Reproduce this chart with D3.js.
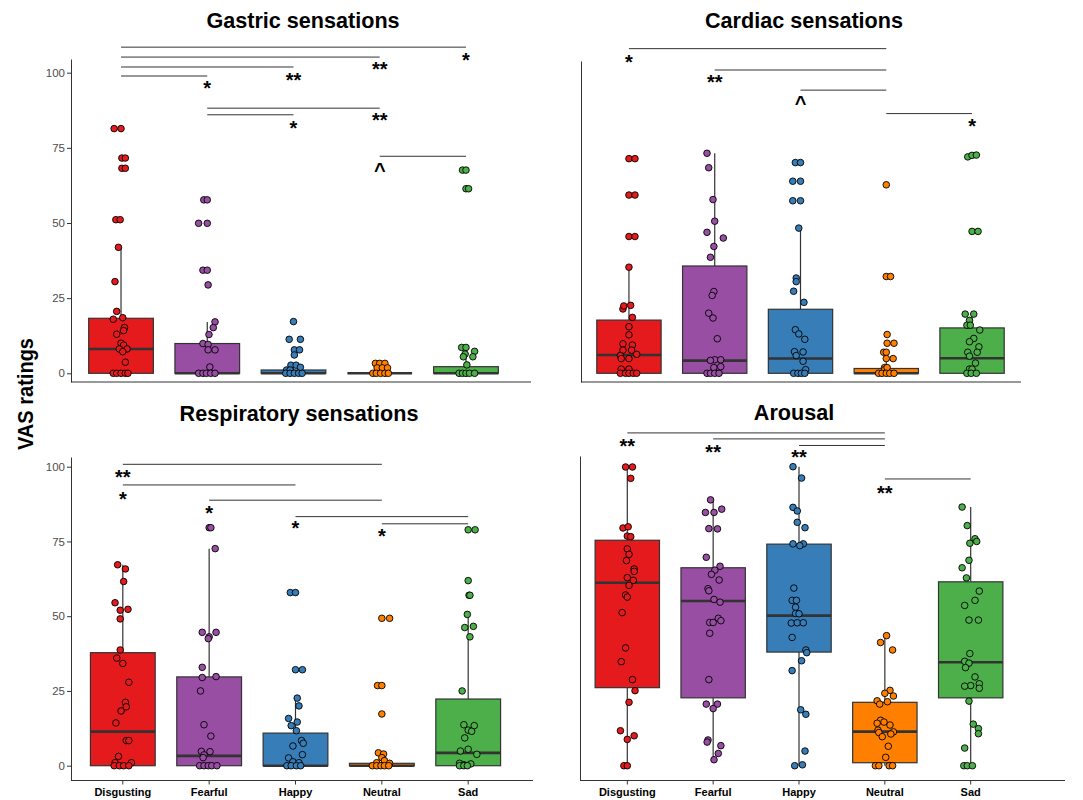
<!DOCTYPE html>
<html>
<head>
<meta charset="utf-8">
<script src="https://cdn.jsdelivr.net/npm/d3@7"></script>
<style>
body { margin: 0; background: #fff; }
svg { display: block; font-family: "Liberation Sans", Arial, sans-serif; }
</style>
</head>
<body>
<div id="chart"></div>
<script>
// Emotion categories and their fill colours (Set1 style)
var categories = ['Disgusting', 'Fearful', 'Happy', 'Neutral', 'Sad'];
var catColors = ['#E41A1C', '#984EA3', '#377EB8', '#FF7F00', '#4DAF4A'];
var yTickValues = [0, 25, 50, 75, 100];

// box stats per category: [lower whisker, q1, median, q3, upper whisker]
var gastricBox = [[0, 0, 8.1, 18.3, 41.9], [0, 0, 0, 9.9, 17.1], [0, 0, 0, 1.1, 2.7], [0, 0, 0, 0, 0], [0, 0, 0, 2.2, 5.5]];
var cardiacBox = [[0, 0, 6.1, 17.7, 35.3], [0, 0, 4.2, 35.7, 73.2], [0, 0, 4.9, 21.3, 48.3], [0, 0, 0, 1.6, 4.0], [0, 0, 5.0, 15.1, 19.7]];
var respBox = [[0, 0, 11.4, 37.8, 67.2], [0, 0, 3.3, 29.7, 72.6], [0, 0, 0, 10.9, 22.6], [0, 0, 0, 0.8, 1.7], [0, 0, 4.3, 22.3, 50.6]];
var arousalBox = [[0, 26.1, 61.2, 75.4, 100], [2.0, 22.7, 55.1, 66.2, 88.9], [0, 38.0, 50.2, 74.1, 100], [0, 1.0, 11.4, 21.2, 43.5], [0, 22.7, 34.6, 61.5, 86.5]];

// individual ratings per category: [value, jitter as fraction of a category step]
var gastricPoints = [
  [[81.4,-.08],[81.4,0],[71.6,.01],[71.6,.05],[68.2,.01],[68.2,.05],[51.1,-.06],[51.1,-.01],[41.9,-.03],[30.5,-.07],[20.6,-.05],[18.5,.02],[18.0,-.09],[13.0,-.05],[15.2,.04],[14.2,.03],[10.0,0],[9.4,.03],[8.1,-.02],[8.1,.07],[7.2,.02],[3.7,.05],[0,-.09],[0,-.05],[0,0],[0,.05],[0,.08]],
  [[57.7,-.04],[57.7,0],[49.9,-.1],[49.9,0],[34.3,-.05],[34.3,0],[29.4,.01],[17.1,.09],[15.2,.07],[12.9,.02],[9.9,-.05],[9.6,.01],[7.8,.01],[7.8,.09],[2.1,.03],[0,-.1],[0,-.05],[0,-.01],[0,.04],[0,.09]],
  [[17.2,0],[11.3,-.05],[11.3,.08],[7.8,.01],[7.8,.07],[6.1,.01],[2.7,-.03],[2.7,.03],[2.0,.08],[1.1,-.08],[1.1,-.04],[0,-.09],[0,-.04],[0,.01],[0,.06],[0,.10]],
  [[3.3,-.05],[3.3,0],[3.3,.06],[1.8,-.03],[1.8,.03],[1.8,.09],[0,-.08],[0,-.04],[0,.01],[0,.06],[0,.1]],
  [[67.6,-.04],[67.6,0],[61.4,0],[61.4,.03],[8.6,-.05],[8.6,0],[7.3,.1],[6.4,-.01],[5.5,-.03],[5.5,.08],[2.8,.01],[0,-.08],[0,-.04],[0,0],[0,.04],[0,.1]]
];
var cardiacPoints = [
  [[71.4,0],[71.4,.07],[59.3,0],[59.3,.07],[45.5,0],[45.5,.07],[35.3,0],[21.4,-.07],[22.4,-.06],[22.6,.02],[18.6,.04],[15.5,0],[12.8,0],[9.8,-.07],[9.4,.04],[7.7,-.07],[7.7,.03],[5.9,-.1],[6.3,.09],[4.9,0],[4.9,-.09],[1.4,-.09],[1.4,0],[0,-.1],[0,-.04],[0,0],[0,.05],[0,.09]],
  [[73.2,-.09],[68.4,-.07],[57.8,-.02],[50.6,0],[46.9,-.09],[45.0,.1],[42.2,-.01],[38.6,-.05],[27.2,-.01],[25.9,-.03],[20.0,-.07],[18.4,-.02],[11.5,.03],[4.5,0],[4.5,.07],[4.3,-.05],[1.9,-.01],[2.2,.07],[0,-.09],[0,-.05],[0,0],[0,.05]],
  [[70.1,-.06],[70.1,0],[63.9,-.09],[63.9,0],[57.4,-.09],[57.4,0],[48.3,-.02],[31.7,-.05],[30.5,-.05],[27.3,-.08],[23.6,.04],[14.5,-.06],[13.1,-.02],[11.3,.05],[7.2,-.07],[7.1,.03],[5.9,-.05],[4.0,.03],[1.2,.06],[0,-.08],[0,-.03],[0,.01],[0,.05]],
  [[62.7,0],[32.2,0],[32.2,.05],[12.9,.01],[10.0,.01],[10.0,.09],[7.0,-.03],[7.0,0],[4.9,0],[4.9,.08],[1.9,-.02],[1.2,-.02],[1.9,.01],[0,-.09],[0,-.05],[0,0],[0,.04],[0,.09]],
  [[72.0,-.05],[72.5,0],[72.6,.05],[47.2,0],[47.2,.07],[19.7,-.08],[19.7,.02],[17.6,-.03],[16.0,-.06],[16.0,-.02],[14.4,.09],[11.6,.02],[10.5,-.03],[8.8,.08],[7.0,-.05],[7.0,.06],[5.7,-.03],[3.4,.04],[1.4,-.03],[1.4,0],[0,-.06],[0,-.01],[0,.05]]
];
var respPoints = [
  [[67.2,-.06],[65.8,.03],[61.6,.01],[54.5,-.09],[52.0,-.03],[52.3,.06],[49.1,-.03],[38.7,-.03],[36.0,-.07],[34.2,0],[27.9,.07],[21.2,.03],[19.7,.04],[18.3,-.02],[14.3,-.08],[8.4,.04],[8.4,.07],[3.1,-.05],[1.0,-.09],[1.0,.1],[0,-.1],[0,-.04],[0,.01],[0,.07]],
  [[79.6,0],[79.6,.02],[72.6,.07],[44.6,-.08],[44.6,.08],[43.1,0],[42.5,-.01],[32.9,-.08],[29.5,-.08],[29.8,.08],[25.0,-.1],[13.7,-.06],[9.9,.02],[4.8,-.09],[4.7,.01],[3.6,-.06],[2.7,-.07],[0,-.11],[0,-.06],[0,-.01],[0,.03],[0,.09]],
  [[57.9,-.06],[57.9,0],[32.1,0],[32.1,.08],[22.6,.02],[20.0,.04],[15.8,-.08],[14.6,.02],[13.4,-.05],[11.7,.01],[8.4,.07],[7.5,.09],[6.6,-.03],[3.7,.08],[2.6,-.08],[1.3,-.03],[1.0,.04],[0,-.1],[0,-.05],[0,.01],[0,.06]],
  [[49.3,0],[49.3,.09],[26.8,-.05],[26.8,0],[17.3,0],[4.3,-.04],[3.9,.02],[2.7,0],[1.7,.03],[1.0,-.06],[0.8,.09],[0,-.11],[0,-.06],[0,-.01],[0,.03],[0,.08]],
  [[78.9,0],[78.9,.08],[61.9,0],[57.0,.01],[57.0,.02],[50.6,-.01],[46.2,-.04],[46.6,.06],[43.1,.02],[25.0,-.07],[13.7,-.05],[13.4,.07],[11.9,0],[11.5,.04],[9.3,-.04],[4.9,-.09],[5.5,0],[3.8,.1],[0.8,-.1],[0.6,.03],[0.3,-.05],[0,-.1],[0,-.05],[0,-.01]]
];
var arousalPoints = [
  [[99.9,-.02],[99.9,.06],[96.1,.04],[79.5,-.05],[79.9,.01],[76.8,0],[76.6,.04],[72.5,0],[70.7,.02],[68.6,-.01],[65.8,.08],[65.0,.08],[62.9,0],[62.0,.07],[60.3,.02],[57.1,-.02],[56.4,0],[51.2,-.06],[39.4,-.02],[34.8,-.07],[28.8,.06],[25.1,.09],[21.2,.02],[11.7,-.08],[10.0,.08],[8.8,0],[0,-.04],[0,0]],
  [[88.9,-.03],[84.7,-.09],[84.7,.01],[85.8,.1],[79.3,-.05],[79.2,.05],[69.7,-.08],[66.7,.08],[65.4,.02],[64.0,-.02],[59.2,-.06],[62.1,.07],[58.5,-.05],[55.6,.01],[54.7,.08],[47.9,-.04],[49.3,.06],[48.5,.09],[47.9,0],[44.3,-.04],[28.8,-.05],[20.6,-.08],[20.6,.05],[19.1,0],[8.6,-.06],[7.9,-.07],[6.7,.09],[4.1,.06],[2.0,.01]],
  [[100,-.07],[96.2,.03],[86.4,-.07],[85.2,-.02],[81.4,-.02],[79.6,.07],[74.2,-.07],[74.2,.05],[73.6,.01],[59.4,-.06],[55.3,-.08],[55.3,-.03],[53.0,-.04],[50.9,-.04],[50.8,0],[47.7,-.09],[47.8,-.02],[47.8,.05],[42.9,-.08],[38.7,.08],[37.8,.09],[35.1,.03],[31.8,-.08],[18.7,.02],[17.2,.08],[4.9,.07],[0,-.05],[0.3,.04]],
  [[43.5,.02],[41.2,-.05],[38.7,.09],[25.2,.06],[24.2,0],[23.3,.1],[21.7,-.09],[21.4,.03],[20.6,-.06],[15.2,-.05],[14.2,-.09],[14.6,-.01],[13.6,.06],[11.9,-.08],[11.1,-.07],[11.3,.1],[10.6,.07],[9.7,-.03],[6.5,.04],[2.8,.01],[0,-.11],[0,-.07],[0,.05],[0,.09]],
  [[86.5,-.1],[80.3,-.04],[74.4,-.01],[75.9,.05],[75.0,.07],[68.7,-.02],[66.2,-.1],[62.8,-.05],[58.4,.1],[55.3,.05],[53.6,-.07],[48.7,-.02],[48.7,.09],[37.5,-.01],[34.9,-.07],[34.3,-.02],[32.8,-.06],[29.7,.05],[26.8,0],[27.4,.1],[26.6,-.07],[25.9,.1],[21.6,-.02],[13.9,.03],[12.4,.09],[10.7,.09],[5.9,-.07],[0,-.08],[0,-.04],[0,.02]]
];

// significance brackets: [from, to, line value, label category, label value, label]
var gastricSig = [
  ['Disgusting', 'Sad', 108.5, 'Sad', 105.9, '*'],
  ['Disgusting', 'Neutral', 105.2, 'Neutral', 102.9, '**'],
  ['Disgusting', 'Happy', 101.9, 'Happy', 99.2, '**'],
  ['Disgusting', 'Fearful', 98.9, 'Fearful', 96.7, '*'],
  ['Fearful', 'Neutral', 88.2, 'Neutral', 85.8, '**'],
  ['Fearful', 'Happy', 86.0, 'Happy', 83.2, '*'],
  ['Neutral', 'Sad', 72.2, 'Neutral', 68.7, '^']
];
var cardiacSig = [
  ['Disgusting', 'Neutral', 108.0, 'Disgusting', 105.3, '*'],
  ['Fearful', 'Neutral', 100.9, 'Fearful', 98.5, '**'],
  ['Happy', 'Neutral', 94.2, 'Happy', 90.9, '^'],
  ['Neutral', 'Sad', 86.4, 'Sad', 83.9, '*']
];
var respSig = [
  ['Disgusting', 'Neutral', 100.8, 'Disgusting', 98.1, '**'],
  ['Disgusting', 'Happy', 93.9, 'Disgusting', 91.0, '*'],
  ['Fearful', 'Neutral', 88.8, 'Fearful', 86.1, '*'],
  ['Happy', 'Sad', 83.3, 'Happy', 81.1, '*'],
  ['Neutral', 'Sad', 80.9, 'Neutral', 78.5, '*']
];
var arousalSig = [
  ['Disgusting', 'Neutral', 111.3, 'Disgusting', 108.5, '**'],
  ['Fearful', 'Neutral', 109.3, 'Fearful', 106.5, '**'],
  ['Happy', 'Neutral', 107.1, 'Happy', 104.8, '**'],
  ['Neutral', 'Sad', 95.9, 'Neutral', 93.0, '**']
];

var width = 1083, height = 800;

var svg = d3.select('#chart').append('svg')
    .attr('width', width)
    .attr('height', height);

// layout of the four panels
var panels = [
  {title: 'Gastric sensations', box: gastricBox, pts: gastricPoints, sig: gastricSig,
   left: 71, plotRight: 516, axisRight: 531, top: 59, bottom: 382, zero: 373.3, hundred: 72.7,
   outer: 0.205, yLabels: true, xLabels: false, titleX: 303, titleY: 28},
  {title: 'Cardiac sensations', box: cardiacBox, pts: cardiacPoints, sig: cardiacSig,
   left: 581, plotRight: 1020, axisRight: 1021, top: 61, bottom: 382, zero: 373.3, hundred: 72.7,
   outer: 0.184, yLabels: false, xLabels: false, titleX: 804, titleY: 28},
  {title: 'Respiratory sensations', box: respBox, pts: respPoints, sig: respSig,
   left: 71, plotRight: 520, axisRight: 533, top: 457, bottom: 780.5, zero: 765.7, hundred: 466.7,
   outer: 0.225, yLabels: true, xLabels: true, titleX: 299, titleY: 421},
  {title: 'Arousal', box: arousalBox, pts: arousalPoints, sig: arousalSig,
   left: 580, plotRight: 1018, axisRight: 1065, top: 456, bottom: 780.5, zero: 765.7, hundred: 466.7,
   outer: 0.176, yLabels: false, xLabels: true, titleX: 794, titleY: 420}
];

panels.forEach(drawPanel);

// shared y title
svg.append('text')
    .attr('transform', 'translate(33,394) rotate(-90)')
    .attr('text-anchor', 'middle')
    .attr('font-size', 22)
    .attr('font-weight', 'bold')
    .attr('textLength', 112)
    .attr('lengthAdjust', 'spacingAndGlyphs')
    .attr('fill', '#000')
    .text('VAS ratings');

function drawPanel(p) {
  var g = svg.append('g');

  var x = d3.scaleBand()
      .domain(categories)
      .range([p.left, p.plotRight])
      .paddingInner(0.25)
      .paddingOuter(p.outer);
  var step = x.step();
  var bw = x.bandwidth();
  var cx = function(c) { return x(c) + bw / 2; };

  var y = d3.scaleLinear().domain([0, 100]).range([p.zero, p.hundred]);
  y.domain([y.invert(p.bottom), y.invert(p.top)]).range([p.bottom, p.top]);

  // y axis
  var yAxis = d3.axisLeft(y)
      .tickValues(p.yLabels ? yTickValues : [])
      .tickSize(4)
      .tickSizeOuter(0)
      .tickPadding(2);
  var ya = g.append('g')
      .attr('transform', 'translate(' + p.left + ',0)')
      .call(yAxis);
  ya.select('.domain').attr('stroke', '#333').attr('stroke-width', 1);
  ya.selectAll('.tick line').attr('stroke', '#333');
  ya.selectAll('.tick text').attr('fill', '#4d4d4d').attr('font-size', 11.5)
      .attr('font-family', '"Liberation Sans", Arial, sans-serif');

  // x axis
  g.append('line')
      .attr('x1', p.left).attr('x2', p.axisRight)
      .attr('y1', p.bottom).attr('y2', p.bottom)
      .attr('stroke', '#333').attr('stroke-width', 1);
  if (p.xLabels) {
    var xa = g.append('g')
        .attr('transform', 'translate(0,' + p.bottom + ')')
        .call(d3.axisBottom(x).tickSize(4).tickPadding(4));
    xa.select('.domain').remove();
    xa.selectAll('.tick line').attr('stroke', '#333');
    xa.selectAll('.tick text').attr('fill', '#000').attr('font-size', 11)
        .attr('font-weight', 'bold')
        .attr('font-family', '"Liberation Sans", Arial, sans-serif');
  }

  var boxes = categories.map(function(c, i) {
    return {cat: c, color: catColors[i], s: p.box[i]};
  });

  // whiskers
  g.selectAll('.whisk-up').data(boxes).enter().append('line')
      .attr('x1', function(d) { return cx(d.cat); })
      .attr('x2', function(d) { return cx(d.cat); })
      .attr('y1', function(d) { return y(d.s[3]); })
      .attr('y2', function(d) { return y(d.s[4]); })
      .attr('stroke', '#333').attr('stroke-width', 1.2);
  g.selectAll('.whisk-dn').data(boxes).enter().append('line')
      .attr('x1', function(d) { return cx(d.cat); })
      .attr('x2', function(d) { return cx(d.cat); })
      .attr('y1', function(d) { return y(d.s[0]); })
      .attr('y2', function(d) { return y(d.s[1]); })
      .attr('stroke', '#333').attr('stroke-width', 1.2);

  // boxes
  g.selectAll('.box').data(boxes).enter().append('rect')
      .attr('x', function(d) { return x(d.cat); })
      .attr('width', bw)
      .attr('y', function(d) { return y(d.s[3]); })
      .attr('height', function(d) { return y(d.s[1]) - y(d.s[3]); })
      .attr('fill', function(d) { return d.color; })
      .attr('stroke', '#333').attr('stroke-width', 1.2);

  // medians
  g.selectAll('.med').data(boxes).enter().append('line')
      .attr('x1', function(d) { return x(d.cat); })
      .attr('x2', function(d) { return x(d.cat) + bw; })
      .attr('y1', function(d) { return y(d.s[2]); })
      .attr('y2', function(d) { return y(d.s[2]); })
      .attr('stroke', '#333').attr('stroke-width', 2.6);

  // jittered points
  var pts = [];
  categories.forEach(function(c, i) {
    p.pts[i].forEach(function(v) {
      pts.push({cat: c, color: catColors[i], val: v[0], jit: v[1]});
    });
  });
  g.selectAll('.pt').data(pts).enter().append('circle')
      .attr('cx', function(d) { return cx(d.cat) + d.jit * step; })
      .attr('cy', function(d) { return y(d.val); })
      .attr('r', 3.3)
      .attr('fill', function(d) { return d.color; })
      .attr('stroke', '#000').attr('stroke-width', 0.9);

  // significance brackets
  g.selectAll('.sig').data(p.sig).enter().append('line')
      .attr('x1', function(d) { return cx(d[0]); })
      .attr('x2', function(d) { return cx(d[1]); })
      .attr('y1', function(d) { return y(d[2]); })
      .attr('y2', function(d) { return y(d[2]); })
      .attr('stroke', '#333').attr('stroke-width', 1);
  g.selectAll('.sig-lab').data(p.sig).enter().append('text')
      .attr('x', function(d) { return cx(d[3]); })
      .attr('y', function(d) { return y(d[4]); })
      .attr('dy', function(d) { return d[5] === '^' ? '0.52em' : '0.6em'; })
      .attr('text-anchor', 'middle')
      .attr('font-size', 20)
      .attr('font-weight', 'bold')
      .attr('fill', '#000')
      .text(function(d) { return d[5]; });

  // title
  g.append('text')
      .attr('x', p.titleX)
      .attr('y', p.titleY)
      .attr('text-anchor', 'middle')
      .attr('font-size', 21.6)
      .attr('font-weight', 'bold')
      .attr('fill', '#000')
      .text(p.title);
}
</script>
</body>
</html>
